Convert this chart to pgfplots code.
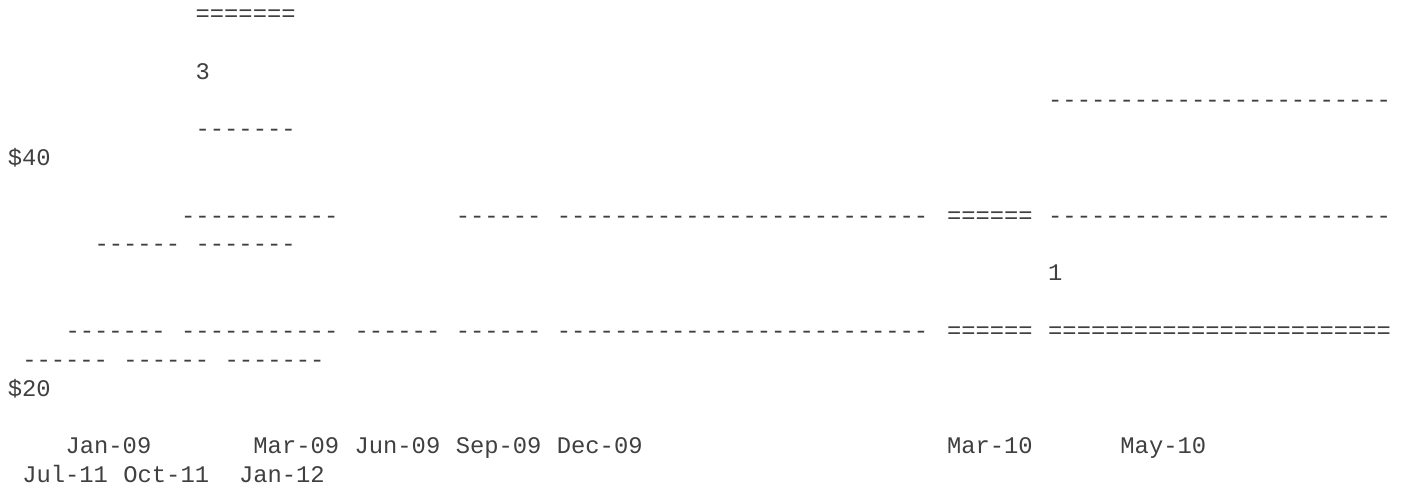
\documentclass[border=0pt]{standalone}
\usepackage{fontspec}
\setmonofont{Liberation Mono}
\usepackage{pgfplots}
\usepackage{pgfplotstable}
\pgfplotsset{compat=1.18}
\definecolor{ink}{HTML}{404040}
% runs of text: starting column, line number, text
\pgfplotstableread{
col line txt
13 0 =======
13 2 3
72 3 ------------------------
13 4 -------
0 5 \$40
12 7 -----------
31 7 ------
38 7 --------------------------
65 7 ======
72 7 ------------------------
6 8 ------
13 8 -------
72 9 1
4 11 -------
12 11 -----------
24 11 ------
31 11 ------
38 11 --------------------------
65 11 ======
72 11 ========================
1 12 ------
8 12 ------
15 12 -------
0 13 \$20
4 15 Jan-09
17 15 Mar-09
24 15 Jun-09
31 15 Sep-09
38 15 Dec-09
65 15 Mar-10
77 15 May-10
1 16 Jul-11
8 16 Oct-11
16 16 Jan-12
}\runs
\begin{document}
\begin{tikzpicture}
\begin{axis}[width=701.5pt,height=244.5pt,scale only axis,
  xmin=0,xmax=1403,ymin=0,ymax=489,y dir=reverse,hide axis,clip=false]
\fill[white] (rel axis cs:0,0) rectangle (rel axis cs:1,1);
\addplot[draw=none, mark=none, nodes near coords={\pgfplotspointmeta},
  point meta=explicit symbolic,
  nodes near coords align={anchor=base west},
  every node near coord/.append style={inner sep=0pt, text=ink,
    font=\fontsize{11.9pt}{14.4pt}\selectfont\ttfamily}]
  table[x expr={7.4+14.45*\thisrow{col}}, y expr={21.5+28.81*\thisrow{line}}, meta=txt] {\runs};
\end{axis}
\end{tikzpicture}
\end{document}
